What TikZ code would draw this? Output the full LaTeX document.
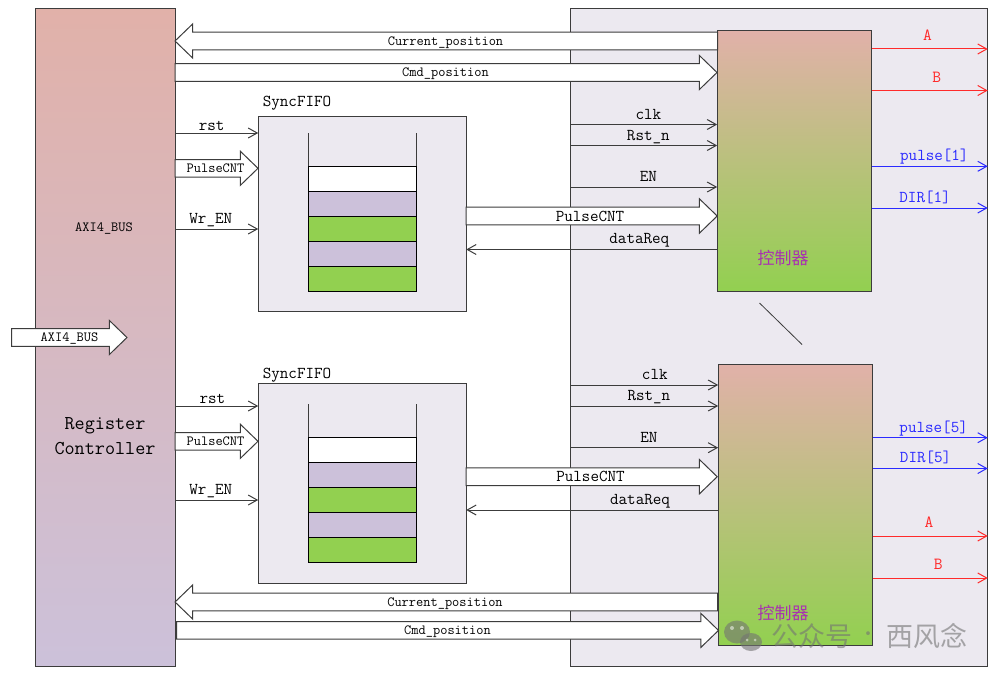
\documentclass[tikz,border=0pt]{standalone}
\usepackage{fontspec}
\newfontfamily\cjk{Noto Sans CJK SC}
\usepackage{tikz}
\usetikzlibrary{positioning}
\usetikzlibrary{shapes.arrows}
\usetikzlibrary{arrows.meta}
\usepackage{xcolor}
\definecolor{redtop}{HTML}{E1B1A9}
\definecolor{lilac}{HTML}{CCC1DA}
\definecolor{leaf}{HTML}{92D050}
\definecolor{panelbg}{HTML}{ECE9F0}
\definecolor{edge}{HTML}{3C3C3C}
\definecolor{sigred}{HTML}{FF2A2A}
\definecolor{sigblue}{HTML}{2A2AFF}
\definecolor{ctrltext}{HTML}{A832B0}

\begin{document}
\begin{tikzpicture}[
		x=1pt, y=-1pt,
		box/.style = {rectangle, draw=edge, line width=1pt, inner sep=0, outer sep=0},
		reg/.style = {box, top color=redtop, bottom color=lilac, minimum width=140, minimum height=658},
		panel/.style = {box, fill=panelbg, minimum width=417, minimum height=658},
		fifo/.style = {box, fill=panelbg, minimum width=208},
		ctrl/.style = {box, top color=redtop, bottom color=leaf, minimum width=154.5},
		w/.style = {box, fill=white, minimum width=108, minimum height=25, draw=black},
		p/.style = {w, fill=lilac},
		g/.style = {w, fill=leaf},
		big/.style = {single arrow, draw=edge, fill=white, line width=1pt, inner sep=0, outer sep=0,
			text height=12.3, text depth=4.3, single arrow head extend=8.3, single arrow tip angle=88,
			anchor=tail},
		bigl/.style = {big, shape border rotate=180, anchor=tip},
		lab/.style = {font=\ttfamily\fontsize{16.6}{18}\selectfont, inner sep=1.5, text=black},
		small/.style = {font=\ttfamily\fontsize{14}{14}\selectfont, inner sep=0},
		r/.style = {-{Straight Barb[length=9,width=10]}, draw=edge, line width=1pt},
		rr/.style = {r, draw=sigred},
		rb/.style = {r, draw=sigblue},
		lr/.style = {lab, text=sigred, font=\ttfamily\fontsize{17}{18}\selectfont, yshift=6.5},
		lb/.style = {lab, text=sigblue},
		cn/.style = {font=\cjk\fontsize{17}{17}\selectfont, text=ctrltext, inner sep=0},
		wmark/.style = {font=\cjk\fontsize{27}{27}\selectfont, text=black!55, opacity=.6, inner sep=0}
		]
		\useasboundingbox (0,0) rectangle (999,677);

		%Boxes
		\node[panel]	(pan)	at	(779.25, 337.3)		{};
		\node[reg]	(regc)	at	(105, 337.3)		{};
		\node[fifo, minimum height=195.5]	(fifo1)	at	(362.2, 214.2)	{};
		\node[fifo, minimum height=200]	(fifo2)	at	(362.2, 483)	{};
		\node[ctrl, minimum height=260.5]	(ctrl1)	at	(794.4, 161.2)	{};
		\node[ctrl, minimum height=281]	(ctrl2)	at	(795.4, 504.8)	{};

		%FIFO cells
		\node[w]	(a1)	at	(362, 178.5)	{};
		\node[p]	(a2)	at	(362, 203.5)	{};
		\node[g]	(a3)	at	(362, 228.5)	{};
		\node[p]	(a4)	at	(362, 253.5)	{};
		\node[g]	(a5)	at	(362, 278.5)	{};
		\node[w]	(b1)	at	(362, 449.5)	{};
		\node[p]	(b2)	at	(362, 474.5)	{};
		\node[g]	(b3)	at	(362, 499.5)	{};
		\node[p]	(b4)	at	(362, 524.5)	{};
		\node[g]	(b5)	at	(362, 549.5)	{};
		\coordinate	(a0l)	at	(308, 133);
		\coordinate	(a0r)	at	(416, 133);
		\coordinate	(b0l)	at	(308, 404);
		\coordinate	(b0r)	at	(416, 404);
		\draw[edge, line width=1pt]	(a0l)	--	(a1.north west);
		\draw[edge, line width=1pt]	(a0r)	--	(a1.north east);
		\draw[edge, line width=1pt]	(b0l)	--	(b1.north west);
		\draw[edge, line width=1pt]	(b0r)	--	(b1.north east);

		%Block arrows
		\node[bigl, minimum height=542.5]	(cur1)	at	(regc.east |- 0,41)	{};
		\node[big, minimum height=542]	(cmd1)	at	(regc.east |- 0,72.5)	{};
		\node[big, minimum height=83]	(cnt1)	at	(regc.east |- 0,168.3)	{};
		\node[big, minimum height=251]	(req1)	at	(fifo1.east |- 0,216)	{};
		\node[big, minimum height=115.5]	(axi)	at	(11.5, 337.5)	{};
		\node[big, minimum height=83]	(cnt2)	at	(regc.east |- 0,441.3)	{};
		\node[big, minimum height=251]	(req2)	at	(fifo2.east |- 0,476.7)	{};
		\node[bigl, minimum height=542.5]	(cur2)	at	(regc.east |- 0,602)	{};
		\node[big, minimum height=542]	(cmd2)	at	(176.5, 630.4)	{};
		\node[small]	(lcur1)	at	(445.5, 42.5)	{Current\_position};
		\node[small]	(lcmd1)	at	(445.5, 74)	{Cmd\_position};
		\node[small]	(lcnt1)	at	(215.5, 168.3)	{PulseCNT};
		\node[lab]	(lcnt3)	at	(590, 216)	{PulseCNT};
		\node[small]	(laxi)	at	(69.5, 339)	{AXI4\_BUS};
		\node[small]	(lcnt2)	at	(215.5, 441.3)	{PulseCNT};
		\node[lab]	(lcnt4)	at	(590.5, 476.7)	{PulseCNT};
		\node[small]	(lcur2)	at	(445, 603.5)	{Current\_position};
		\node[small]	(lcmd2)	at	(447.5, 631.9)	{Cmd\_position};

		%Lines
		\draw[r]	(regc.east |- 0,133)	--	node[lab, above, pos=.44]	(lrst1)	{rst}	(fifo1.west |- 0,133);
		\draw[r]	(regc.east |- 0,229)	--	node[lab, above, pos=.43]	(lwr1)	{Wr\_EN}	(fifo1.west |- 0,229);
		\draw[r]	(regc.east |- 0,406)	--	node[lab, above, pos=.45]	(lrst2)	{rst}	(fifo2.west |- 0,406);
		\draw[r]	(regc.east |- 0,500)	--	node[lab, above, pos=.43]	(lwr2)	{Wr\_EN}	(fifo2.west |- 0,500);
		\draw[r]	(ctrl1.west |- 0,249.5)	--	node[lab, above, pos=.31]	(lreq1)	{dataReq}	(fifo1.east |- 0,249.5);
		\draw[r]	(ctrl2.west |- 0,510)	--	node[lab, above, pos=.31]	(lreq2)	{dataReq}	(fifo2.east |- 0,510);
		\draw[r]	(pan.west |- 0,124.5)	--	node[lab, above, pos=.53, yshift=3]	(lclk1)	{clk}	(ctrl1.west |- 0,124.5);
		\draw[r]	(pan.west |- 0,145.5)	--	node[lab, above, pos=.53]	(lrn1)	{Rst\_n}	(ctrl1.west |- 0,145.5);
		\draw[r]	(pan.west |- 0,187)	--	node[lab, above, pos=.53, yshift=4]	(len1)	{EN}	(ctrl1.west |- 0,187);
		\draw[r]	(pan.west |- 0,385)	--	node[lab, above, pos=.57, yshift=3]	(lclk2)	{clk}	(ctrl2.west |- 0,385);
		\draw[r]	(pan.west |- 0,406)	--	node[lab, above, pos=.53]	(lrn2)	{Rst\_n}	(ctrl2.west |- 0,406);
		\draw[r]	(pan.west |- 0,447.7)	--	node[lab, above, pos=.53, yshift=3]	(len2)	{EN}	(ctrl2.west |- 0,447.7);
		\draw[rr]	(ctrl1.east |- 0,49)	--	node[lr, above, pos=.48]	(la1)	{A}	(pan.east |- 0,49);
		\draw[rr]	(ctrl1.east |- 0,90.5)	--	node[lr, above, pos=.56]	(lb1)	{B}	(pan.east |- 0,90.5);
		\draw[rb]	(ctrl1.east |- 0,166.3)	--	node[lb, above, pos=.54]	(lp1)	{pulse[1]}	(pan.east |- 0,166.3);
		\draw[rb]	(ctrl1.east |- 0,208)	--	node[lb, above, pos=.46, yshift=2]	(ld1)	{DIR[1]}	(pan.east |- 0,208);
		\draw[rb]	(ctrl2.east |- 0,437.7)	--	node[lb, above, pos=.53]	(lp5)	{pulse[5]}	(pan.east |- 0,437.7);
		\draw[rb]	(ctrl2.east |- 0,468.5)	--	node[lb, above, pos=.46, yshift=3]	(ld5)	{DIR[5]}	(pan.east |- 0,468.5);
		\draw[rr]	(ctrl2.east |- 0,536)	--	node[lr, above, pos=.49]	(la5)	{A}	(pan.east |- 0,536);
		\draw[rr]	(ctrl2.east |- 0,578)	--	node[lr, above, pos=.57]	(lb5)	{B}	(pan.east |- 0,578);
		\coordinate	(dot1)	at	(759.5, 303);
		\coordinate	(dot2)	at	(802, 344.5);
		\draw[edge, line width=.8pt]	(dot1)	--	(dot2);

		%Texts
		\node[lab]	(sf1)	at	(297, 103)	{SyncFIFO};
		\node[lab]	(sf2)	at	(297, 375)	{SyncFIFO};
		\node[small]	(bus)	at	(104, 229)	{AXI4\_BUS};
		\node[font=\ttfamily\fontsize{19.6}{25}\selectfont, align=center, inner sep=0]	(name)	at	(105, 436.5)	{Register\\Controller};
		\node[cn]	(cn1)	at	(783, 258)	{控制器};
		\node[cn]	(cn2)	at	(783, 613)	{控制器};

		%Mark
		\fill[black!55, opacity=.6] (737, 632) ellipse [x radius=13, y radius=11.5];
		\fill[black!55, opacity=.6] (751, 642) ellipse [x radius=11, y radius=9];
		\fill[white, opacity=.5] (732, 628) circle [radius=2];
		\fill[white, opacity=.5] (742, 628) circle [radius=2];
		\fill[white, opacity=.5] (747, 640) circle [radius=1.5];
		\fill[white, opacity=.5] (755, 640) circle [radius=1.5];
		\node[wmark]	(gzh)	at	(812, 636.5)	{公众号};
		\node[wmark, font=\cjk\fontsize{18}{18}\selectfont]	(sep)	at	(868, 636.5)	{·};
		\node[wmark]	(xfn)	at	(927, 636.5)	{西风念};
	\end{tikzpicture}
\end{document}
